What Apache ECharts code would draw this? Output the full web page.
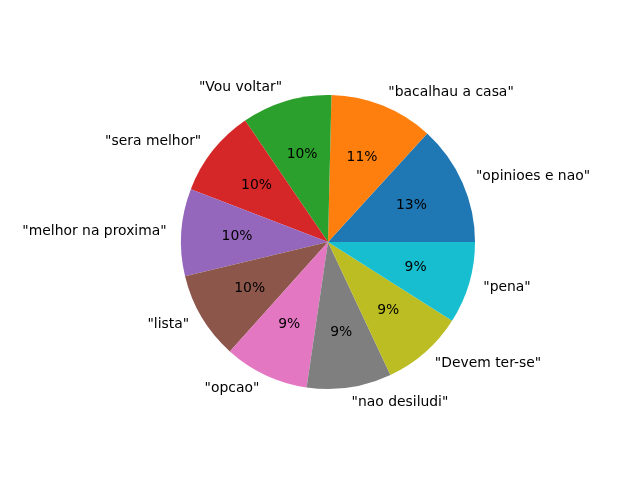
<!DOCTYPE html>
<html>
<head>
<meta charset="utf-8">
<script src="https://cdn.jsdelivr.net/npm/echarts@6/dist/echarts.min.js"></script>
<style>html,body{margin:0;padding:0;background:#fff}#c{width:640px;height:480px}</style>
</head>
<body>
<div id="c"></div>
<script>
const categories = ['"opinioes e nao"', '"bacalhau a casa"', '"Vou voltar"', '"sera melhor"', '"melhor na proxima"', '"lista"', '"opcao"', '"nao desiludi"', '"Devem ter-se"', '"pena"'];
const counts = [44, 38, 33, 32, 32, 32, 31, 31, 30, 30];
const colors = ['#1f77b4', '#ff7f0e', '#2ca02c', '#d62728', '#9467bd', '#8c564b', '#e377c2', '#7f7f7f', '#bcbd22', '#17becf'];

const R = 147;
const data = categories.map((n, i) => ({ name: n, value: counts[i], itemStyle: { color: colors[i] } }));
const font = { fontFamily: 'DejaVu Sans', fontSize: 13.9, color: '#000' };

const chart = echarts.init(document.getElementById('c'), null, { renderer: 'canvas' });
chart.setOption({
  backgroundColor: '#fff',
  animation: false,
  series: [
    {
      type: 'pie',
      center: [328, 242],
      radius: [0, R],
      startAngle: 0,
      clockwise: false,
      avoidLabelOverlap: false,
      silent: true,
      data: data,
      itemStyle: { borderWidth: 0 },
      label: Object.assign({ show: true, position: 'outside', formatter: '{b}', distanceToLabelLine: 0 }, font),
      labelLine: { show: false, length: R * 0.1, length2: 0 }
    },
    {
      type: 'pie',
      center: [328, 242],
      radius: [0, R * 1.2],
      startAngle: 0,
      clockwise: false,
      avoidLabelOverlap: false,
      silent: true,
      data: categories.map((n, i) => ({ name: n, value: counts[i], itemStyle: { color: 'rgba(0,0,0,0)' } })),
      itemStyle: { borderWidth: 0 },
      label: Object.assign({ show: true, position: 'inside', formatter: p => Math.round(p.percent) + '%' }, font),
      labelLine: { show: false }
    }
  ]
});
</script>
</body>
</html>
